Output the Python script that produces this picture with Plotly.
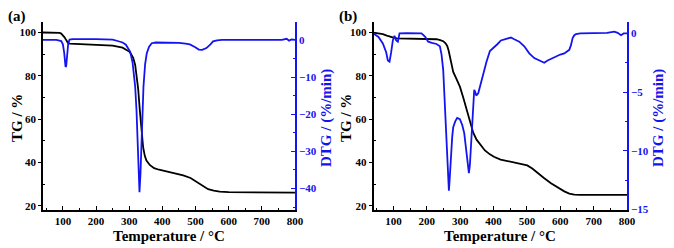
import plotly.graph_objects as go

# ---------------- data ----------------
# Panel (a)
temp_tg_a = [40, 60, 80, 90, 95, 100, 105, 110, 115, 120,
             140, 175, 200, 250, 280, 293, 300, 305, 312, 318,
             322, 327, 332, 337, 342, 347, 352, 362, 375, 390,
             403, 430, 463, 485, 503, 520, 538, 555, 573, 600,
             700, 800]
tg_a = [100, 100, 100, 99.8, 99.5, 98.8, 97.8, 96.5, 95.3, 94.9,
        94.7, 94.6, 94.4, 93.9, 93.0, 92.0, 91.2, 90.2, 88.3, 85.0,
        81.0, 74.0, 64.0, 55.0, 47.0, 43.0, 40.8, 38.8, 37.3, 36.6,
        36.2, 35.2, 34.0, 32.8, 31.0, 29.2, 27.6, 26.9, 26.5, 26.3,
        26.1, 26.0]

temp_dtg_a = [40, 80, 95, 100, 104, 108, 110, 113, 116, 120,
              130, 200, 250, 265, 280, 290, 297, 303, 310, 318,
              322, 325, 328, 331, 334, 338, 343, 348, 353, 360,
              368, 380, 393, 420, 450, 470, 483, 498, 510, 520,
              533, 545, 553, 565, 580, 650, 700, 760, 775, 782,
              790, 800]
dtg_a = [0, 0, -0.3, -1.2, -3.5, -7.3, -7.0, -4.0, -1.0, 0.1,
         0.2, 0.2, 0.1, -0.3, -0.7, -1.3, -2.2, -3.2, -6.0, -12.6,
         -19.0, -26.0, -35.0, -41.0, -36.0, -26.0, -12.6, -6.5, -3.6, -1.8,
         -0.9, -0.7, -0.7, -0.8, -0.8, -1.0, -1.2, -1.9, -2.6, -2.7,
         -2.2, -1.2, -0.4, -0.1, 0.0, 0.0, 0.0, 0.0, 0.3, -0.2,
         0.1, 0.0]

# Panel (b)
temp_tg_b = [40, 55, 68, 80, 90, 100, 110, 130, 180, 229,
             240, 249, 256, 261, 265, 269, 274, 279, 289, 299,
             309, 319, 329, 339, 349, 359, 374, 389, 401, 421,
             441, 461, 481, 501, 516, 531, 551, 572, 592, 612,
             627, 642, 660, 700, 800]
tg_b = [100, 99.8, 99.3, 98.6, 98.0, 97.6, 97.3, 97.2, 97.1, 96.9,
        96.5, 96.0, 95.0, 93.8, 91.8, 89.2, 85.5, 81.8, 78.5, 75.0,
        70.0, 64.5, 59.0, 53.7, 50.5, 48.3, 45.5, 43.7, 42.6, 41.3,
        40.6, 40.1, 39.5, 38.6, 37.2, 35.2, 32.8, 30.4, 28.4, 26.6,
        25.6, 25.1, 25.0, 25.0, 25.0]

temp_dtg_b = [40, 55, 68, 78, 83, 88, 93, 98, 103, 108,
              113, 118, 140, 184, 195, 204, 215, 229, 239, 244,
              249, 254, 258, 261, 264, 266, 268, 272, 276, 279,
              285, 291, 299, 306, 312, 319, 323, 326, 329, 332,
              336, 339, 342, 345, 348, 354, 364, 372, 379, 389,
              402, 412, 422, 432, 442, 452, 462, 477, 492, 507,
              522, 537, 547, 552, 562, 582, 600, 612, 627, 632,
              637, 642, 647, 660, 700, 740, 762, 772, 782, 790,
              800]
dtg_b = [0, -0.3, -0.85, -1.6, -2.3, -2.4, -1.6, -0.6, -0.2, -0.6,
         -0.7, 0, 0.02, 0, -0.3, -0.7, -0.8, -0.9, -1.1, -1.8,
         -3.1, -6.0, -8.5, -10.2, -12.4, -13.4, -12.6, -10.2, -8.8, -8.0,
         -7.5, -7.2, -7.3, -7.8, -8.5, -10.2, -11.3, -11.9, -11.2, -9.7,
         -7.8, -6.2, -4.8, -5.0, -5.3, -5.1, -4.0, -3.1, -2.4, -1.5,
         -1.2, -0.9, -0.6, -0.5, -0.4, -0.35, -0.5, -0.7, -1.1, -1.7,
         -2.1, -2.3, -2.4, -2.5, -2.3, -2.0, -1.8, -1.7, -1.4, -1.0,
         -0.4, -0.15, -0.05, 0, 0, 0.05, 0.15, 0.05, -0.15, 0,
         0]

x_ticks = [100, 200, 300, 400, 500, 600, 700, 800]
tg_ticks = [20, 40, 60, 80, 100]
dtg_ticks_a = [0, -10, -20, -30, -40]
dtg_ticks_b = [0, -5, -10, -15]

panel_labels = ["(a)", "(b)"]
x_title = "Temperature / °C"
tg_title = "TG / %"
dtg_title = "DTG / (%/min)"

# ---------------- styling ----------------
# The page body has an 8px default margin; size the figure to fill the rest
OFF = 8
W, H = 674 - OFF, 248 - OFF
BLUE = "#1414f0"
FONT = "Liberation Serif"
tickfont_k = dict(family=FONT, size=11, color="black", weight="bold")
tickfont_b = dict(family=FONT, size=11, color=BLUE, weight="bold")


def fx(p):  # window pixel x -> paper fraction
    return (p - OFF) / W


def fy(p):  # window pixel y -> paper fraction
    return 1 - (p - OFF) / H


y_dom = [fy(210), fy(21.7)]
xa_dom = [fx(43), fx(295)]
xb_dom = [fx(373.5), fx(627)]

fig = go.Figure()
fig.add_trace(go.Scatter(x=temp_tg_a, y=tg_a, mode="lines", xaxis="x", yaxis="y",
                         line=dict(color="black", width=1.8)))
fig.add_trace(go.Scatter(x=temp_dtg_a, y=dtg_a, mode="lines", xaxis="x", yaxis="y2",
                         line=dict(color=BLUE, width=1.8)))
fig.add_trace(go.Scatter(x=temp_tg_b, y=tg_b, mode="lines", xaxis="x2", yaxis="y3",
                         line=dict(color="black", width=1.8)))
fig.add_trace(go.Scatter(x=temp_dtg_b, y=dtg_b, mode="lines", xaxis="x2", yaxis="y4",
                         line=dict(color=BLUE, width=1.8)))


def xaxis(dom, anchor):
    return dict(domain=dom, anchor=anchor, range=[40, 800], tickvals=x_ticks,
                showline=True, linecolor="black", linewidth=1.5, showgrid=False,
                zeroline=False, ticks="inside", ticklen=4, tickwidth=1.2, tickcolor="black",
                tickfont=tickfont_k, automargin=False,
                minor=dict(tickvals=[50, 150, 250, 350, 450, 550, 650, 750],
                           ticks="inside", ticklen=2.5, tickwidth=1, tickcolor="black"))


def tg_axis(anchor):
    return dict(domain=y_dom, anchor=anchor, range=[18, 105], tickvals=tg_ticks,
                showline=True, linecolor="black", linewidth=1.5, showgrid=False,
                zeroline=False, ticks="outside", ticklen=3, tickwidth=1.2, tickcolor="black",
                tickfont=tickfont_k, automargin=False,
                minor=dict(tickvals=[30, 50, 70, 90], ticks="inside", ticklen=2.5,
                           tickwidth=1, tickcolor="black"))


def dtg_axis(anchor, overlay, rng, ticks, minors):
    return dict(anchor=anchor, overlaying=overlay, side="right", range=rng, tickvals=ticks,
                showline=True, linecolor=BLUE, linewidth=1.5, showgrid=False,
                zeroline=False, ticks="inside", ticklen=4, tickwidth=1.2, tickcolor=BLUE,
                tickfont=tickfont_b, automargin=False,
                minor=dict(tickvals=minors, ticks="inside", ticklen=2.5, tickwidth=1,
                           tickcolor=BLUE))


fig.update_layout(
    width=W, height=H, margin=dict(l=0, r=0, t=0, b=0),
    paper_bgcolor="white", plot_bgcolor="white", showlegend=False,
    xaxis=xaxis(xa_dom, "y"),
    yaxis=tg_axis("x"),
    yaxis2=dtg_axis("x", "y", [-45.8, 4.9], dtg_ticks_a, [-5, -15, -25, -35, -45]),
    xaxis2=xaxis(xb_dom, "y3"),
    yaxis3=tg_axis("x2"),
    yaxis4=dtg_axis("x2", "y3", [-15.05, 1.0], dtg_ticks_b, [-2.5, -7.5, -12.5]),
)

ann_font_k = dict(family=FONT, size=15, color="black", weight="bold")
ann_font_b = dict(family=FONT, size=15, color=BLUE, weight="bold")


def px(x, y, text, font, angle=0):
    fig.add_annotation(x=fx(x), y=fy(y), xref="paper", yref="paper", text=text,
                       showarrow=False, font=font, textangle=angle, xanchor="center",
                       yanchor="middle")


px(17, 17, panel_labels[0], ann_font_k)
px(348, 17, panel_labels[1], ann_font_k)
px(169, 236, x_title, ann_font_k)
px(500, 236, x_title, ann_font_k)
px(17, 118, tg_title, ann_font_k, angle=-90)
px(346, 118, tg_title, ann_font_k, angle=-90)
px(327, 118, dtg_title, ann_font_b, angle=-90)
px(659, 118, dtg_title, ann_font_b, angle=-90)

fig.write_html("out.html")
